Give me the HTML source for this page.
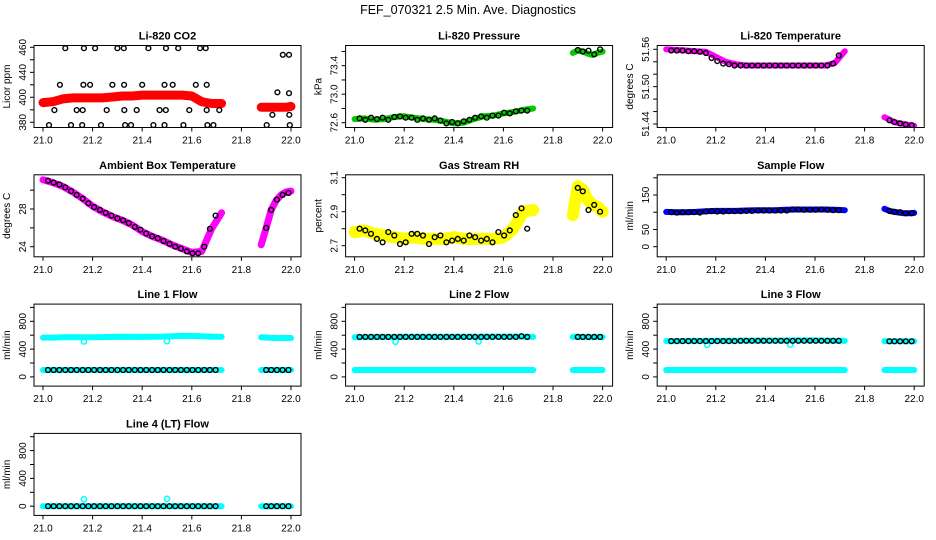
<!DOCTYPE html>
<html><head><meta charset="utf-8">
<style>
html,body{margin:0;padding:0;background:#fff;}
svg{display:block;font-family:"Liberation Sans",sans-serif;}
</style></head>
<body>
<svg id="chart" width="936" height="540" viewBox="0 0 936 540" xmlns="http://www.w3.org/2000/svg">
<text x="468" y="14" text-anchor="middle" font-size="12.5">FEF_070321  2.5 Min. Ave. Diagnostics</text>
</svg>
<script>
// shared time categories
const bandTimes = [21.0,21.04,21.08,21.12,21.16,21.2,21.24,21.28,21.32,21.36,21.4,21.44,21.48,21.52,21.56,21.6,21.64,21.68,21.72, 21.88,21.9,21.92,21.94,21.96,21.98,22.0];
const pointTimes = [21.02,21.043,21.066,21.09,21.113,21.136,21.16,21.183,21.206,21.23,21.253,21.276,21.3,21.323,21.346,21.37,21.393,21.416,21.44,21.463,21.486,21.51,21.533,21.556,21.58,21.603,21.626,21.65,21.673,21.696, 21.9,21.92,21.943,21.966,21.99];
const xTicks = [21.0,21.2,21.4,21.6,21.8,22.0];
const xTickLabels = ["21.0","21.2","21.4","21.6","21.8","22.0"];

// CO2
const co2Band = [401,402,405,406,406,406,406,407,408,408,409,409,409,409,409,408,402,400,400, 396,396,396,396,396,396,397];
const co2PtTimes = [21.09,21.165,21.21,21.3,21.326,21.425,21.496,21.545,21.633,21.656, 21.068,21.163,21.19,21.28,21.327,21.40,21.49,21.523,21.616,21.66, 21.046,21.136,21.16,21.257,21.328,21.378,21.47,21.495,21.59,21.66,21.711, 21.024,21.113,21.158,21.234,21.331,21.355,21.445,21.49,21.566,21.663,21.687, 21.902,21.925,21.945,21.967,21.992,21.992,21.993,21.995];
const co2PtValues = [459,459,459,459,459,459,459,459,459,459, 420,420,420,420,420,420,420,420,420,420, 393,393,393,393,393,393,393,393,393,393,393, 377,377,377,377,377,377,377,377,377,377,377, 377,388,412,452,452,411,388,377];
const co2Ticks = [380,393.3,406.7,420,433.3,446.7,460];
const co2TickLabels = ["380","","400","","440","","460"];
// Pressure
const presBand = [72.65,72.66,72.64,72.65,72.68,72.69,72.67,72.65,72.64,72.62,72.59,72.6,72.65,72.69,72.7,72.73,72.75,72.78,72.8, 73.58,73.61,73.6,73.57,73.55,73.58,73.6];
const presPts = [72.66,72.64,72.67,72.65,72.67,72.64,72.68,72.69,72.67,72.67,72.64,72.66,72.64,72.66,72.63,72.59,72.61,72.59,72.62,72.64,72.67,72.69,72.67,72.70,72.70,72.74,72.73,72.76,72.77,72.77, 73.62,73.60,73.61,73.56,73.63];
const presTicks = [72.6,72.8,73.0,73.2,73.4,73.6];
const presTickLabels = ["72.6","","73.0","","73.4",""];
// Li-820 temperature
const tempBand = [51.560,51.559,51.558,51.557,51.556,51.548,51.540,51.536,51.534,51.534,51.534,51.534,51.534,51.534,51.534,51.534,51.534,51.538,51.557, 51.451,51.447,51.443,51.441,51.440,51.438,51.437];
const tempPts = [51.558,51.558,51.558,51.557,51.557,51.556,51.554,51.546,51.541,51.537,51.536,51.534,51.534,51.534,51.534,51.534,51.534,51.534,51.534,51.534,51.534,51.534,51.534,51.534,51.534,51.534,51.534,51.534,51.537,51.550, 51.446,51.443,51.441,51.439,51.438];
const tempTicks = [51.44,51.46,51.48,51.50,51.52,51.54,51.56];
const tempTickLabels = ["51.44","","","51.50","","","51.56"];
// Ambient
const ambBand = [31.1,30.8,30.4,29.8,29.1,28.3,27.7,27.2,26.8,26.3,25.6,25.1,24.7,24.2,23.8,23.4,23.5,25.9,27.6, 24.2,26.0,27.9,28.9,29.5,29.8,29.9];
const ambPts = [31.0,30.8,30.6,30.3,29.9,29.5,29.1,28.6,28.2,27.9,27.6,27.3,27.0,26.8,26.5,26.1,25.8,25.4,25.1,24.9,24.6,24.3,24.0,23.8,23.5,23.3,23.3,24.0,25.9,27.3, 26.0,27.9,29.0,29.5,29.7];
const ambTicks = [24,26,28,30];
const ambTickLabels = ["24","","28",""];
// RH
const rhBand = [2.78,2.79,2.77,2.76,2.75,2.74,2.75,2.74,2.74,2.74,2.75,2.74,2.74,2.74,2.74,2.75,2.80,2.90,2.91, 2.88,3.05,3.03,2.97,2.94,2.93,2.90];
const rhPts = [2.80,2.79,2.77,2.74,2.72,2.78,2.76,2.71,2.72,2.77,2.77,2.76,2.71,2.75,2.76,2.72,2.73,2.74,2.73,2.76,2.75,2.73,2.74,2.72,2.78,2.76,2.79,2.88,2.92,2.80, 3.04,3.02,2.91,2.94,2.90];
const rhTicks = [2.7,2.8,2.9,3.0,3.1];
const rhTickLabels = ["2.7","","2.9","","3.1"];
// Sample flow
const sampBand = [101,100,100,101,103,104,104,104,105,106,106,106,107,108,108,108,108,107,106, 110,104,101,99,97,97,98];
const sampPts = [100,99,100,100,100,99,102,103,102,102,103,103,103,104,104,105,105,105,105,105,105,108,108,107,107,107,108,107,106,106, 104,101,100,97,97];
const sampTicks = [0,50,100,150,200];
const sampTickLabels = ["0","50","","150",""];
// Line flows
const flowTicks = [0,200,400,600,800,1000];
const flowTickLabels = ["0","","400","","800",""];
const l1Upper = [565,565,570,572,570,570,572,575,578,575,575,578,580,585,590,588,585,580,578, 570,565,562,560,560,560,560];
const l1Lower = [100,100,100,100,100,100,100,100,100,100,100,100,100,100,100,100,100,100,100, 100,100,100,100,100,100,100];
const l1Pts = [100,100,100,100,100,100,100,100,100,100,100,100,100,100,100,100,100,100,100,100,100,100,100,100,100,100,100,100,100,100, 100,100,100,100,100];
const l1OutT = [21.165,21.5];
const l1OutV = [510,515];
const l2Upper = [570,572,572,574,574,575,576,576,578,576,576,578,578,578,580,580,580,578,576, 575,575,572,572,572,572,572];
const l2Lower = [100,100,100,100,100,100,100,100,100,100,100,100,100,100,100,100,100,100,100, 100,100,100,100,100,100,100];
const l2Pts = [575,575,575,575,575,575,575,575,575,575,575,575,575,575,575,575,575,575,575,575,575,575,575,575,575,575,575,575,585,575, 575,575,575,575,575];
const l2OutT = [21.165,21.5];
const l2OutV = [505,510];
const l3Upper = [515,515,518,518,518,520,520,520,522,522,522,522,522,525,525,525,522,520,518, 515,515,512,512,512,512,512];
const l3Lower = [100,100,100,100,100,100,100,100,100,100,100,100,100,100,100,100,100,100,100, 100,100,100,100,100,100,100];
const l3Pts = [515,515,515,515,515,515,515,515,515,515,515,515,520,520,520,520,520,520,520,520,520,520,520,520,520,520,520,520,520,520, 512,512,512,512,512];
const l3OutT = [21.165,21.5];
const l3OutV = [460,465];
const l4Band = [0,0,0,0,0,0,0,0,0,0,0,0,0,0,0,0,0,0,0, 0,0,0,0,0,0,0];
const l4Pts = [0,0,0,0,0,0,0,0,0,0,0,0,0,0,0,0,0,0,0,0,0,0,0,0,0,0,0,0,0,0, 0,0,0,0,0];
const l4OutT = [21.165,21.5];
const l4OutV = [100,105];

const NS = "http://www.w3.org/2000/svg";
const svg = document.getElementById('chart');
function mk(tag, attrs, parent){
  const e = document.createElementNS(NS, tag);
  for (const k in attrs) e.setAttribute(k, attrs[k]);
  (parent||svg).appendChild(e);
  return e;
}
const colLeft = [34, 345.6, 657.2];
const rowTop = [45.5, 174.8, 304.1, 433.4];
const BW = 267, BH = 82;

function panel(cfg){
  const bx = colLeft[cfg.col], by = rowTop[cfg.row];
  const g = mk('g', {});
  
  
  const xs = t => bx + 9 + (t - 21.0) * 248;
  const ys = v => by + cfg.p0 + (v - cfg.v0) * (cfg.p1 - cfg.p0) / (cfg.v1 - cfg.v0);
  const tt = mk('text', {x: bx + BW/2, y: by - 6, 'text-anchor':'middle', 'font-size':'11', 'font-weight':'bold'}, g);
  
  
  tt.textContent = cfg.title;
  const clip = mk('clipPath', {id:'c'+cfg.name}, g);
  mk('rect', {x:bx, y:by, width:BW, height:BH}, clip);
  const sg = mk('g', {'clip-path':'url(#c'+cfg.name+')'}, g);
  (cfg.bands||[]).forEach((b, bi) => {
    const segs = [[0,19],[19,26]];
    segs.forEach(([a,z], si) => {
      let d = '';
      for (let i=a;i<z;i++) d += (i===a?'M':'L') + xs(bandTimes[i]).toFixed(1) + ',' + ys(b.values[i]).toFixed(1);
      const p = mk('path', {d, fill:'none', stroke:b.color, 'stroke-width':b.w||6, 'stroke-linecap':'round', 'stroke-linejoin':'round'}, sg);
      
      
    });
  });
  (cfg.outliers||[]).forEach(o => {
    o.t.forEach((t,i) => {
      const c = mk('circle', {cx:xs(t), cy:ys(o.v[i]), r:2.6, fill:'none', stroke:o.color, 'stroke-width':1.5}, sg);
      
      
    });
  });
  if (cfg.pts){
    const pt = cfg.ptTimes || pointTimes;
    pt.forEach((t,i) => {
      const c = mk('circle', {cx:xs(t).toFixed(1), cy:ys(cfg.pts[i]).toFixed(1), r:2.4, fill:'none', stroke:'#000', 'stroke-width':1.4}, sg);
      
      
    });
  }
  const box = mk('rect', {x:bx, y:by, width:BW, height:BH, fill:'none', stroke:'#000', 'stroke-width':1}, g);
  
  
  xTicks.forEach((t,i) => {
    const x = xs(t);
    mk('line', {x1:x, x2:x, y1:by+BH, y2:by+BH+4, stroke:'#000'}, g);
    const l = mk('text', {x:x, y:by+BH+16, 'text-anchor':'middle', 'font-size':'10'}, g);
    
    
    l.textContent = xTickLabels[i];
  });
  cfg.ticks.forEach((v,i) => {
    const y = ys(v);
    mk('line', {x1:bx, x2:bx-4, y1:y, y2:y, stroke:'#000'}, g);
    if (cfg.labels[i]) {
      const l = mk('text', {x:0, y:0, 'text-anchor':'middle', 'font-size':'10', transform:'translate('+(bx-8)+','+y.toFixed(1)+') rotate(-90)'}, g);
      
      
      l.textContent = cfg.labels[i];
    }
  });
  const yl = mk('text', {x:0, y:0, 'text-anchor':'middle', 'font-size':'10', transform:'translate('+(bx-24)+','+(by+BH/2)+') rotate(-90)'}, g);
  
  
  yl.textContent = cfg.ylabel;
}

panel({name:'co2', col:0,row:0,title:'Li-820 CO2',ylabel:'Licor ppm',v0:380,p0:76.8,v1:460,p1:1.8,ticks:co2Ticks,labels:co2TickLabels,
  bands:[{values:co2Band,color:'#ff0000',w:9}], pts:co2PtValues, ptTimes:co2PtTimes});
panel({name:'pressure', col:1,row:0,title:'Li-820 Pressure',ylabel:'kPa',v0:72.6,v1:73.4,p0:77.2,p1:20.2,ticks:presTicks,labels:presTickLabels,
  bands:[{values:presBand,color:'#00cc00',w:6}], pts:presPts});
panel({name:'li820-temperature', col:2,row:0,title:'Li-820 Temperature',ylabel:'degrees C',v0:51.44,v1:51.56,p0:78.5,p1:3.8,ticks:tempTicks,labels:tempTickLabels,
  bands:[{values:tempBand,color:'#ff00ff',w:6}], pts:tempPts});
panel({name:'ambient-temperature', col:0,row:1,title:'Ambient Box Temperature',ylabel:'degrees C',v0:24,v1:28,p0:71.9,p1:34.2,ticks:ambTicks,labels:ambTickLabels,
  bands:[{values:ambBand,color:'#ff00ff',w:7}], pts:ambPts});
panel({name:'gas-rh', col:1,row:1,title:'Gas Stream RH',ylabel:'percent',v0:2.7,v1:3.1,p0:70.9,p1:2.9,ticks:rhTicks,labels:rhTickLabels,
  bands:[{values:rhBand,color:'#ffff00',w:12}], pts:rhPts});
panel({name:'sample-flow', col:2,row:1,title:'Sample Flow',ylabel:'ml/min',v0:0,v1:150,p0:71.9,p1:20.2,ticks:sampTicks,labels:sampTickLabels,
  bands:[{values:sampBand,color:'#0000ff',w:6}], pts:sampPts});
panel({name:'line1-flow', col:0,row:2,title:'Line 1 Flow',ylabel:'ml/min',v0:0,v1:800,p0:72.8,p1:17.2,ticks:flowTicks,labels:flowTickLabels,
  bands:[{values:l1Upper,color:'#00ffff',w:6},{values:l1Lower,color:'#00ffff',w:6}], outliers:[{t:l1OutT,v:l1OutV,color:'#00ffff'}], pts:l1Pts});
panel({name:'line2-flow', col:1,row:2,title:'Line 2 Flow',ylabel:'ml/min',v0:0,v1:800,p0:72.8,p1:17.2,ticks:flowTicks,labels:flowTickLabels,
  bands:[{values:l2Upper,color:'#00ffff',w:6},{values:l2Lower,color:'#00ffff',w:6}], outliers:[{t:l2OutT,v:l2OutV,color:'#00ffff'}], pts:l2Pts});
panel({name:'line3-flow', col:2,row:2,title:'Line 3 Flow',ylabel:'ml/min',v0:0,v1:800,p0:72.8,p1:17.2,ticks:flowTicks,labels:flowTickLabels,
  bands:[{values:l3Upper,color:'#00ffff',w:6},{values:l3Lower,color:'#00ffff',w:6}], outliers:[{t:l3OutT,v:l3OutV,color:'#00ffff'}], pts:l3Pts});
panel({name:'line4-flow', col:0,row:3,title:'Line 4 (LT) Flow',ylabel:'ml/min',v0:0,v1:800,p0:72.8,p1:17.2,ticks:flowTicks,labels:flowTickLabels,
  bands:[{values:l4Band,color:'#00ffff',w:6}], outliers:[{t:l4OutT,v:l4OutV,color:'#00ffff'}], pts:l4Pts});
</script>
</body></html>
